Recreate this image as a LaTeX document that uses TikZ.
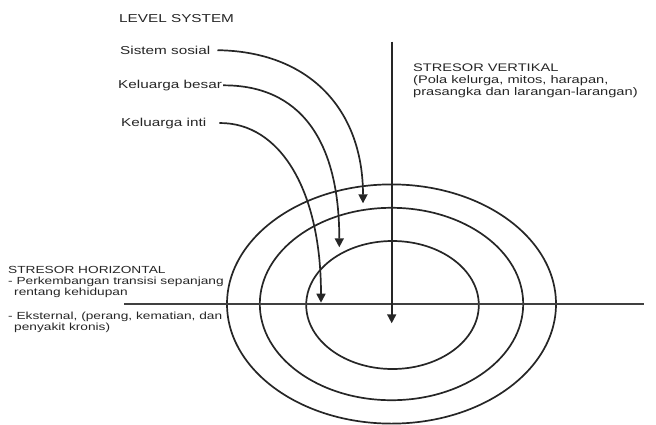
\documentclass[tikz,border=0pt]{standalone}
\usepackage{fontspec}
\setmainfont{Liberation Sans}[FakeStretch=1.33]
\usetikzlibrary{arrows.meta}
\begin{document}
\begin{tikzpicture}[x=1pt,y=-1pt,
  lbl/.style={anchor=base west,inner sep=0pt,font=\fontsize{11.5}{13}\selectfont,text=black!85},
  svtxt/.style={anchor=base west,inner sep=0pt,font=\fontsize{11}{12}\selectfont,text=black!85},
  shtxt/.style={anchor=base west,inner sep=0pt,font=\fontsize{10.3}{11}\selectfont,text=black!85},
  ring/.style={draw=black!85,line width=1.7pt},
  conn/.style={draw=black!85,line width=1.7pt,-{Triangle[length=9pt,width=9pt]}},
  axis/.style={draw=black!75,line width=1.5pt}]
\useasboundingbox (0,0) rectangle (656,424);
% rings
\draw[ring] (391.5,304) ellipse [x radius=164.5, y radius=119.6];
\draw[ring] (391.5,304) ellipse [x radius=131.7, y radius=96.2];
\draw[ring] (392.5,305) ellipse [x radius=86.3, y radius=64];
% labels
\node[lbl] (lev) at (119,22.7) {LEVEL SYSTEM};
\node[lbl] (ss) at (120,54.3) {Sistem sosial};
\node[lbl] (kb) at (118,88.3) {Keluarga besar};
\node[lbl] (ki) at (121,126) {Keluarga inti};
\node[svtxt] (sv1) at (413,71) {STRESOR VERTIKAL};
\node[svtxt] (sv2) at (413,83) {(Pola kelurga, mitos, harapan,};
\node[svtxt] (sv3) at (413,95) {prasangka dan larangan-larangan)};
\node[shtxt] (sh1) at (8,273.7) {STRESOR HORIZONTAL};
\node[shtxt] (sh2) at (8,284.7) {- Perkembangan transisi sepanjang};
\node[shtxt] (sh3) at (14,295.7) {rentang kehidupan};
\node[shtxt] (sh4) at (8,319) {- Eksternal, (perang, kematian, dan};
\node[shtxt] (sh5) at (14,330) {penyakit kronis)};
% axes
\coordinate (hl) at (124,304);
\coordinate (hr) at (644,304);
\coordinate (vt) at (391.7,41.7);
\coordinate (vb) at (391.7,323.3);
\draw[axis] (hl) -- (hr);
\draw[conn] (vt) -- (vb);
% arrow tips
\coordinate (t1) at (363,203.3);
\coordinate (t2) at (339.3,247.3);
\coordinate (t3) at (321,302.7);
\draw[conn] ([xshift=7pt]ss.east) .. controls (310,51.5) and (363,110) .. (t1);
\draw[conn] ([xshift=1pt]kb.east) .. controls (300,85) and (339.3,140) .. (t2);
\draw[conn] ([xshift=13pt]ki.east) .. controls (280,122.5) and (321,190) .. (t3);
\end{tikzpicture}
\end{document}
